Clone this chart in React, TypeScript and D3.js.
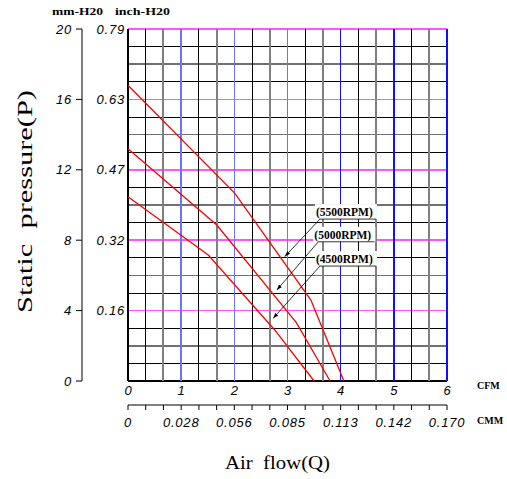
import * as d3 from 'd3'

// axis values
const cfmTicks = [0, 1, 2, 3, 4, 5, 6]
const cmmLabels = ['0', '0.028', '0.056', '0.085', '0.113', '0.142', '0.170']
const mmTicks = [0, 4, 8, 12, 16, 20]
const inchLabels = ['', '0.16', '0.32', '0.47', '0.63', '0.79']

// curves: [CFM, mm-H2O]
const rpm5500: [number, number][] = [[0, 16.8], [2.01, 10.66], [3.44, 4.6], [4.06, 0]]
const rpm5000: [number, number][] = [[0, 13.2], [1.67, 8.86], [3.17, 3.3], [3.8, 0]]
const rpm4500: [number, number][] = [[0, 10.47], [1.51, 7.16], [2.76, 2.9], [3.5, 0]]

const curves = [rpm5500, rpm5000, rpm4500]

// labels: text, anchor of underline (CFM, mm), arrow tip (CFM, mm)
const rpmLabels = ['(5500RPM)', '(5000RPM)', '(4500RPM)']
const labelAnchors: [number, number][] = [[3.61, 9.2], [3.58, 7.91], [3.61, 6.53]]
const arrowTips: [number, number][] = [[2.95, 7.07], [2.8, 5.17], [2.73, 3.56]]

const W = 507
const H = 479
const left = 128
const right = 447
const top = 29
const bottom = 381

const tickFont = '"Liberation Sans", Arial, sans-serif'
const boldSerif = '"Liberation Serif", "Times New Roman", serif'
const titleFont = '"Liberation Serif", "Times New Roman", serif'

export default function App() {
  const x = d3.scaleLinear().domain([0, 6]).range([left, right])
  const y = d3.scaleLinear().domain([0, 20]).range([bottom, top])

  const line = d3
    .line<[number, number]>()
    .x((d) => x(d[0]))
    .y((d) => y(d[1]))

  const vLines = d3.range(0, 19)
  const hLines = d3.range(0, 21)

  const vColor = (k: number) => {
    if (k === 0) return '#000'
    if (k % 3 === 0) return k <= 9 ? '#7070ff' : '#1010ff'
    if (k % 3 === 2) return '#808080'
    return '#000'
  }
  const vWidth = (k: number) => (k === 0 ? 1.2 : k % 3 === 2 ? 2 : k % 3 === 0 ? 1.6 : 1)
  const hColor = (k: number) => {
    if (k === 0) return '#000'
    if (k % 4 === 0) return '#ff55ff'
    if (k % 4 === 2) return '#707070'
    return '#000'
  }
  const hWidth = (k: number) => (k === 0 ? 1.2 : k % 4 === 0 ? 1.6 : k % 4 === 2 ? 1.6 : 1)

  const cmmY = 405

  return (
    <svg
      width={W}
      height={H}
      style={{ position: 'absolute', left: 0, top: 0, background: '#fff' }}
    >
      <defs>
        <marker id="arr" viewBox="0 0 10 10" refX="10" refY="5" markerWidth="7" markerHeight="7" orient="auto">
          <path d="M0,1.5 L10,5 L0,8.5 z" fill="#000" />
        </marker>
      </defs>

      {/* grid */}
      {hLines.map((k) => (
        <line
          key={'h' + k}
          x1={left}
          x2={right}
          y1={y(k)}
          y2={y(k)}
          stroke={hColor(k)}
          strokeWidth={hWidth(k)}
          shapeRendering="crispEdges"
        />
      ))}
      {vLines.map((k) => (
        <line
          key={'v' + k}
          x1={x(k / 3)}
          x2={x(k / 3)}
          y1={top}
          y2={bottom}
          stroke={vColor(k)}
          strokeWidth={vWidth(k)}
          shapeRendering="crispEdges"
        />
      ))}

      {/* curves */}
      {curves.map((c, i) => (
        <path key={'c' + i} d={line(c) || ''} fill="none" stroke="#ff0000" strokeWidth={1.3} />
      ))}

      {/* rpm labels */}
      {rpmLabels.map((t, i) => {
        const ax = x(labelAnchors[i][0])
        const ay = y(labelAnchors[i][1])
        return (
          <g key={'l' + i}>
            <rect x={ax - 5} y={ay - 15} width={62} height={15} fill="#fff" />
            <line x1={ax} x2={ax + 56} y1={ay} y2={ay} stroke="#000" strokeWidth={0.8} />
            <text
              x={ax - 4}
              y={ay - 3}
              fontFamily={boldSerif}
              fontWeight="bold"
              fontSize={11.5}
              fill="#000"
            >
              {t}
            </text>
            <line
              x1={ax}
              y1={ay}
              x2={x(arrowTips[i][0])}
              y2={y(arrowTips[i][1])}
              stroke="#000"
              strokeWidth={0.8}
              markerEnd="url(#arr)"
            />
          </g>
        )
      })}

      {/* mm axis */}
      <line x1={82} x2={82} y1={top} y2={bottom} stroke="#000" strokeWidth={1} />
      {mmTicks.map((v) => (
        <g key={'mm' + v}>
          <line x1={76} x2={82} y1={y(v)} y2={y(v)} stroke="#000" strokeWidth={1} />
          <text
            x={72}
            y={y(v) + 4.5}
            textAnchor="end"
            fontFamily={tickFont}
            fontStyle="italic"
            fontSize={13}
            letterSpacing={0.8}
          >
            {v}
          </text>
        </g>
      ))}
      {inchLabels.map((t, i) => (
        <text
          key={'in' + i}
          x={125}
          y={y(mmTicks[i]) + 4.5}
          textAnchor="end"
          fontFamily={tickFont}
          fontStyle="italic"
          fontSize={13}
          letterSpacing={0.8}
        >
          {t}
        </text>
      ))}

      {/* CFM labels */}
      {cfmTicks.map((v) => (
        <text
          key={'cfm' + v}
          x={x(v)}
          y={395}
          textAnchor="middle"
          fontFamily={tickFont}
          fontStyle="italic"
          fontSize={13}
        >
          {v}
        </text>
      ))}
      <text x={477} y={389} fontFamily={boldSerif} fontWeight="bold" fontSize={10}>
        CFM
      </text>

      {/* CMM axis */}
      <line x1={left} x2={right} y1={cmmY} y2={cmmY} stroke="#000" strokeWidth={1} />
      {vLines.map((k) => (
        <line key={'ct' + k} x1={x(k / 3)} x2={x(k / 3)} y1={cmmY} y2={cmmY + 5} stroke="#000" strokeWidth={1} />
      ))}
      {cmmLabels.map((t, i) => (
        <text
          key={'cmm' + i}
          x={x(cfmTicks[i])}
          y={427}
          textAnchor="middle"
          fontFamily={tickFont}
          fontStyle="italic"
          fontSize={13}
          letterSpacing={0.8}
        >
          {t}
        </text>
      ))}
      <text x={477} y={424} fontFamily={boldSerif} fontWeight="bold" fontSize={10}>
        CMM
      </text>

      {/* unit headers */}
      <text x={52} y={15} fontFamily={boldSerif} fontWeight="bold" fontSize={11} textLength={51} lengthAdjust="spacingAndGlyphs">
        mm-H20
      </text>
      <text x={115} y={15} fontFamily={boldSerif} fontWeight="bold" fontSize={11} textLength={55} lengthAdjust="spacingAndGlyphs">
        inch-H20
      </text>

      {/* titles */}
      <text
        x={225}
        y={469}
        fontFamily={titleFont}
        fontSize={19}
        textLength={105}
        lengthAdjust="spacingAndGlyphs"
        xmlSpace="preserve"
      >
        {'Air  flow(Q)'}
      </text>
      <text
        transform="translate(32,313) rotate(-90)"
        fontFamily={titleFont}
        fontSize={21}
        textLength={223}
        lengthAdjust="spacingAndGlyphs"
        xmlSpace="preserve"
      >
        {'Static  pressure(P)'}
      </text>
    </svg>
  )
}
